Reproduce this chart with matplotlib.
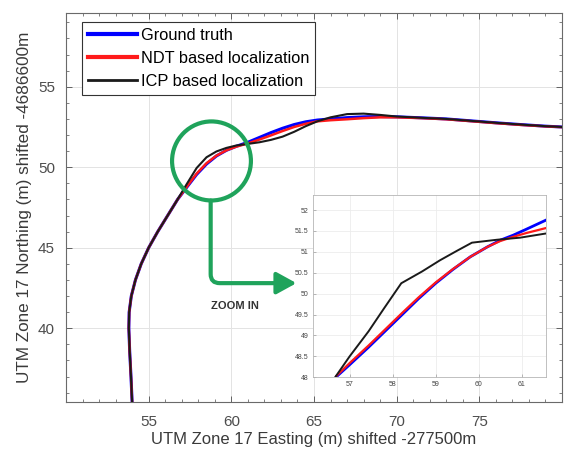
import matplotlib
matplotlib.use("Agg")
import matplotlib.pyplot as plt
from matplotlib.patches import Ellipse, FancyArrowPatch
from matplotlib.ticker import MultipleLocator, FixedLocator

plt.rcParams['font.family'] = ['Liberation Sans', 'DejaVu Sans']

# ---------------- data (main view) ----------------
x_main = [54.00, 53.93, 53.85, 53.80, 53.82, 53.95, 54.20, 54.55, 55.00, 55.55, 56.15, 56.75,
          57.30, 57.90, 58.50, 59.10, 59.70, 60.30, 61.00, 61.70, 62.40, 63.10, 63.80, 64.50,
          65.20, 66.00, 67.00, 68.00, 69.00, 70.00, 71.50, 73.00, 74.50, 76.00, 77.50, 79.00, 80.00]
y_gt = [35.40, 37.00, 38.60, 40.00, 41.00, 42.00, 43.00, 44.00, 45.00, 46.00, 47.00, 48.00,
        48.75, 49.55, 50.20, 50.70, 51.05, 51.30, 51.55, 51.85, 52.15, 52.42, 52.65, 52.82,
        52.93, 53.00, 53.08, 53.13, 53.15, 53.13, 53.07, 53.00, 52.88, 52.76, 52.65, 52.55, 52.50]
y_ndt = [35.40, 37.00, 38.60, 40.00, 41.00, 42.00, 43.00, 44.00, 45.00, 46.00, 47.00, 48.00,
         48.78, 49.60, 50.25, 50.72, 51.05, 51.28, 51.48, 51.72, 51.98, 52.25, 52.50, 52.70,
         52.85, 52.92, 52.98, 53.05, 53.10, 53.10, 53.05, 52.98, 52.86, 52.74, 52.63, 52.54, 52.49]
y_icp = [35.40, 37.00, 38.60, 40.00, 41.00, 42.00, 43.00, 44.00, 45.00, 46.00, 47.00, 48.00,
         48.95, 49.95, 50.62, 50.98, 51.20, 51.35, 51.45, 51.55, 51.70, 51.90, 52.20, 52.55,
         52.85, 53.10, 53.30, 53.33, 53.25, 53.15, 53.07, 53.00, 52.88, 52.76, 52.65, 52.55, 52.50]

# ---------------- data (zoomed inset) ----------------
xi_gt = [56.70, 57.00, 57.44, 57.80, 58.22, 58.60, 59.00, 59.40, 59.80, 60.20, 60.50, 60.80, 61.10, 61.56]
yi_gt = [48.02, 48.30, 48.72, 49.08, 49.50, 49.88, 50.25, 50.58, 50.88, 51.12, 51.28, 51.40, 51.54, 51.76]
xi_ndt = [56.70, 57.00, 57.44, 57.80, 58.22, 58.60, 59.00, 59.40, 59.80, 60.20, 60.50, 60.80, 61.10, 61.56]
yi_ndt = [48.04, 48.34, 48.76, 49.12, 49.54, 49.91, 50.27, 50.59, 50.88, 51.12, 51.26, 51.36, 51.45, 51.57]
xi_icp = [56.67, 57.00, 57.44, 57.80, 58.20, 58.68, 59.10, 59.50, 59.84, 60.42, 60.96, 61.56]
yi_icp = [48.01, 48.50, 49.10, 49.65, 50.25, 50.53, 50.80, 51.03, 51.22, 51.29, 51.34, 51.44]

labels = ['Ground truth', 'NDT based localization', 'ICP based localization']
colors = ['#0000ff', '#ff1a1a', '#1a1a1a']

main_xticks = [55, 60, 65, 70, 75]
main_yticks = [40, 45, 50, 55]
inset_xticks = [57, 58, 59, 60, 61]
inset_yticks = [48, 48.5, 49, 49.5, 50, 50.5, 51, 51.5, 52]
inset_yticklabels = ['48', '48.5', '49', '49.5', '50', '50.5', '51', '51.5', '52']

GREEN = '#1fa35b'
TICKC = '#4d4d4d'

fig = plt.figure(figsize=(5.79, 4.53), dpi=100)
ax = fig.add_axes([0.114, 0.112, 0.8566, 0.86])

ax.plot(x_main, y_gt, color=colors[0], lw=2.2, label=labels[0], zorder=3)
ax.plot(x_main, y_ndt, color=colors[1], lw=1.8, label=labels[1], zorder=4)
ax.plot(x_main, y_icp, color=colors[2], lw=1.5, label=labels[2], zorder=5)

ax.set_xlim(50, 80)
ax.set_ylim(35.4, 59.6)
ax.xaxis.set_major_locator(FixedLocator(main_xticks))
ax.yaxis.set_major_locator(FixedLocator(main_yticks))
ax.xaxis.set_minor_locator(MultipleLocator(1))
ax.yaxis.set_minor_locator(MultipleLocator(1))
ax.tick_params(which='both', direction='in', top=True, right=True, colors=TICKC)
ax.tick_params(which='major', length=4, width=0.6, labelsize=11, labelcolor=TICKC)
ax.tick_params(axis='x', which='major', pad=9)
ax.tick_params(axis='y', which='major', pad=8)
ax.tick_params(which='minor', length=2, width=0.5)
ax.grid(True, which='major', color='#e3e3e3', lw=0.7)
ax.set_axisbelow(True)
for s in ax.spines.values():
    s.set_color('#6a6a6a')
    s.set_linewidth(0.8)

ax.set_xlabel('UTM Zone 17 Easting (m) shifted -277500m', fontsize=12, color='#3a3a3a', labelpad=2)
ax.set_ylabel('UTM Zone 17 Northing (m) shifted -4686600m', fontsize=12.3, color='#3a3a3a', labelpad=4)

leg = ax.legend(loc='upper left', bbox_to_anchor=(0.032, 0.976), borderaxespad=0,
                fontsize=11.8, fancybox=False, framealpha=1, edgecolor='#333333',
                handlelength=3.0, handletextpad=0.25, labelspacing=0.5, borderpad=0.35)
leg.get_frame().set_linewidth(0.8)
for h, lw in zip(leg.get_lines(), [3.0, 3.0, 2.0]):
    h.set_linewidth(lw)

# zoom circle and arrow
circ = Ellipse((58.8, 50.39), width=4.77, height=4.91, fill=False, edgecolor=GREEN, lw=3, zorder=6)
ax.add_patch(circ)
arr = FancyArrowPatch(posA=(58.75, 47.93), posB=(63.94, 42.8),
                      connectionstyle='angle,angleA=-90,angleB=180,rad=9',
                      arrowstyle='-|>,head_length=0.6,head_width=0.33', mutation_scale=20,
                      color=GREEN, lw=3, shrinkA=0, shrinkB=0, zorder=6)
ax.add_patch(arr)
ax.text(60.2, 41.4, 'ZOOM IN', ha='center', va='center', fontsize=8, fontweight='bold', color='#333333')

# inset
ai = fig.add_axes([0.5406, 0.1671, 0.4024, 0.4024])
ai.plot(xi_gt, yi_gt, color=colors[0], lw=2.0, zorder=3)
ai.plot(xi_ndt, yi_ndt, color=colors[1], lw=1.6, zorder=4)
ai.plot(xi_icp, yi_icp, color=colors[2], lw=1.4, zorder=5)
ai.set_xlim(56.15, 61.56)
ai.set_ylim(48.0, 52.36)
ai.xaxis.set_major_locator(FixedLocator(inset_xticks))
ai.yaxis.set_major_locator(FixedLocator(inset_yticks))
ai.set_yticklabels(inset_yticklabels)
ai.tick_params(direction='in', length=2, width=0.4, labelsize=5, colors='#888888', labelcolor='#444444', pad=3)
ai.grid(True, color='#ececec', lw=0.6)
ai.set_axisbelow(True)
for s in ai.spines.values():
    s.set_color('#b5b5b5')
    s.set_linewidth(0.6)

fig.savefig('out.png', dpi=100)
